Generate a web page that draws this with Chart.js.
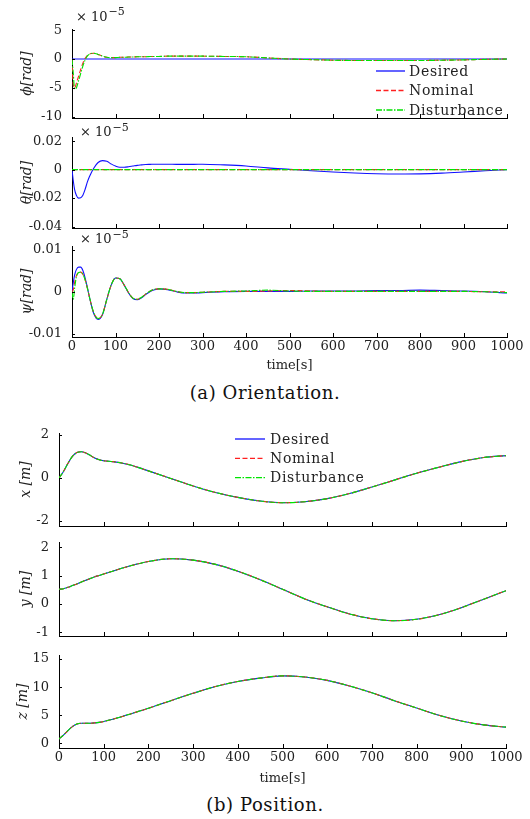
<!DOCTYPE html>
<html><head><meta charset="utf-8">
<script src="https://cdn.jsdelivr.net/npm/chart.js@4/dist/chart.umd.min.js"></script>
<style>
html,body{margin:0;padding:0;background:#fff;}
body{width:530px;height:819px;position:relative;overflow:hidden;font-family:"DejaVu Serif",serif;}
canvas{position:absolute;left:0;}
.cap{position:absolute;left:0;width:530px;text-align:center;font-size:18px;letter-spacing:0.6px;line-height:20px;color:#111;}
</style></head><body>
<div class="cap" style="top:383px">(a) Orientation.</div>
<div class="cap" style="top:795px">(b) Position.</div>
<script>
// ---------- data ----------
const timeTicks = [0,100,200,300,400,500,600,700,800,900,1000];
const timeLabels = ['0','100','200','300','400','500','600','700','800','900','1000'];

const tO = [0,3,6,10,15,20,25,30,35,40,50,60,70,80,90,100,110,120,130,140,150,160,170,180,190,200,220,240,260,280,300,350,400,450,500,550,600,650,700,750,800,850,900,950,1000];

const phiDesired = [0,0,0,0,0,0,0,0,0,0,0,0,0,0,0,0,0,0,0,0,0,0,0,0,0,0,0,0,0,0,0,0,0,0,0,0,0,0,0,0,0,0,0,0,0];
const phiNominal = [0,-4.5,-5.0,-4.2,-3.0,-1.8,-0.7,0.1,0.6,0.9,1.0,0.8,0.5,0.3,0.25,0.25,0.3,0.3,0.35,0.35,0.4,0.4,0.4,0.45,0.45,0.45,0.5,0.5,0.5,0.5,0.5,0.45,0.4,0.2,0.0,-0.1,-0.2,-0.25,-0.25,-0.25,-0.25,-0.2,-0.15,-0.05,0];
const phiDisturbance = [0,-2.5,-5.2,-5.0,-3.8,-2.5,-1.2,-0.2,0.5,0.85,1.0,0.8,0.5,0.3,0.25,0.25,0.3,0.3,0.35,0.35,0.4,0.4,0.4,0.45,0.45,0.45,0.5,0.5,0.5,0.5,0.5,0.45,0.4,0.2,0.0,-0.1,-0.2,-0.25,-0.25,-0.25,-0.25,-0.2,-0.15,-0.05,0];

const thetaDesired = [0,-0.008,-0.014,-0.018,-0.020,-0.0198,-0.018,-0.014,-0.009,-0.005,0.001,0.005,0.0063,0.0058,0.004,0.0025,0.0017,0.0017,0.002,0.0025,0.003,0.0033,0.0036,0.0037,0.0038,0.0038,0.0038,0.0037,0.0037,0.0037,0.0038,0.0033,0.0025,0.0012,0.0002,-0.0008,-0.0017,-0.0024,-0.0029,-0.0031,-0.0030,-0.0025,-0.0017,-0.0008,0];
const thetaNominal = [0,0,0,0,0,0,0,0,0,0,0,0,0,0,0,0,0,0,0,0,0,0,0,0,0,0,0,0,0,0,0,0,0,0,0,0,0,0,0,0,0,0,0,0,0];
const thetaDisturbance = [0,0,0,0,0,0,0,0,0,0,0,0,0,0,0,0,0,0,0,0,0,0,0,0,0,0,0,0,0,0,0,0,0,0,0,0,0,0,0,0,0,0,0,0,0];

const psiDesired = [0,0.0022,0.004,0.0053,0.0059,0.0059,0.0051,0.0034,0.0012,-0.0012,-0.0052,-0.0066,-0.0055,-0.0018,0.0016,0.0033,0.0031,0.0016,-0.0003,-0.0016,-0.0019,-0.0014,-0.0006,0.0001,0.0005,0.0007,0.0005,0.0,-0.0003,-0.0003,-0.0002,0.0,0.0001,0.0001,0.0001,0.0002,0.0002,0.0002,0.0003,0.0003,0.0004,0.0003,0.0002,0.0,-0.0003];
const psiNominal = [0,0.0005,0.0022,0.0038,0.0046,0.0047,0.0042,0.0029,0.001,-0.0012,-0.005,-0.0064,-0.0054,-0.0018,0.0016,0.0033,0.0031,0.0016,-0.0002,-0.0015,-0.0018,-0.0013,-0.0005,0.0002,0.0006,0.0007,0.0006,0.0001,-0.0002,-0.0002,-0.0001,0.0001,0.0001,0.0002,0.0003,0.0002,0.0001,0.0001,0.0001,0.0001,0.0001,0.0001,0.0001,0.0,0.0];
const psiDisturbance = [0,-0.0018,0.0008,0.0035,0.0046,0.0047,0.0042,0.0029,0.001,-0.0012,-0.005,-0.0064,-0.0054,-0.0018,0.0016,0.0033,0.0031,0.0016,-0.0002,-0.0015,-0.0018,-0.0013,-0.0005,0.0002,0.0006,0.0007,0.0006,0.0001,-0.0002,-0.0002,-0.0001,0.0001,0.0002,0.0004,0.0002,0.0001,0.0001,0.0001,0.0001,0.0001,0.0001,0.0001,0.0001,0.0,-0.0002];

const tP = [0,10,20,30,40,50,60,70,80,90,100,120,140,160,180,200,250,300,350,400,450,500,550,600,650,700,750,800,850,900,950,1000];
const xPos = [0,0.3,0.68,1.0,1.18,1.22,1.16,1.05,0.93,0.85,0.8,0.76,0.7,0.6,0.47,0.33,-0.02,-0.37,-0.67,-0.9,-1.07,-1.15,-1.1,-0.96,-0.72,-0.42,-0.1,0.22,0.5,0.76,0.95,1.04];
const yPos = [0.52,0.54,0.59,0.65,0.71,0.78,0.84,0.9,0.96,1.01,1.06,1.16,1.26,1.35,1.43,1.5,1.6,1.55,1.4,1.16,0.86,0.52,0.18,-0.1,-0.35,-0.52,-0.59,-0.54,-0.38,-0.13,0.17,0.47];
const zPos = [0.8,1.5,2.3,3.0,3.45,3.6,3.6,3.6,3.65,3.75,3.9,4.3,4.75,5.25,5.75,6.25,7.6,8.9,10.1,11.0,11.6,12.0,11.8,11.2,10.2,9.0,7.6,6.3,5.0,4.0,3.3,2.9];

const phiTicks = [-10,-5,0,5];        const phiLabels = ['-10','-5','0','5'];
const thetaTicks = [-0.04,-0.02,0,0.02]; const thetaLabels = ['-0.04','-0.02','0','0.02'];
const psiTicks = [-0.01,0,0.01];      const psiLabels = ['-0.01','0','0.01'];
const xTicks = [-2,0,2];              const xLabels = ['-2','0','2'];
const yTicks = [-1,0,1,2];            const yLabels = ['-1','0','1','2'];
const zTicks = [0,5,10,15];           const zLabels = ['0','5','10','15'];

const seriesNames = ['Desired','Nominal','Disturbance'];

// ---------- drawing ----------
const FONT = '"DejaVu Serif", serif';
const TXT = '#222';

function pts(t, v){ return t.map((x,i)=>({x:x, y:v[i]})); }
function datasets(t, d, n, s){
  return [
    {label:seriesNames[0], data:pts(t,d), borderColor:'#1010ff', borderWidth:1.1, order:3},
    {label:seriesNames[1], data:pts(t,n), borderColor:'#ff2020', borderWidth:1.1, borderDash:[5,2.5], order:2},
    {label:seriesNames[2], data:pts(t,s), borderColor:'#00e400', borderWidth:1.1, borderDash:[6,1.5,1.5,1.5], order:1}
  ];
}

const inwardTicks = {
  id:'inwardTicks',
  afterDraw(chart){
    const {ctx, chartArea:a, scales:{x, y}} = chart;
    ctx.save(); ctx.strokeStyle='#000'; ctx.lineWidth=1; ctx.setLineDash([]);
    ctx.beginPath();
    x.ticks.forEach((t,i)=>{ const px=Math.round(x.getPixelForTick(i))+0.5; ctx.moveTo(px,a.bottom); ctx.lineTo(px,a.bottom-4); });
    y.ticks.forEach((t,i)=>{ const py=Math.round(y.getPixelForTick(i))+0.5; ctx.moveTo(a.left,py); ctx.lineTo(a.left+3,py); });
    ctx.stroke(); ctx.restore();
  }
};
const sciPlugin = {
  id:'sci',
  afterDraw(chart, args, o){
    const ctx = chart.ctx; ctx.save();
    ctx.fillStyle=TXT; ctx.textBaseline='middle'; ctx.textAlign='left';
    ctx.font = '13px ' + FONT;
    ctx.fillText('× 10', o.x, o.y);
    const w = ctx.measureText('× 10').width;
    ctx.font = '11px ' + FONT;
    ctx.fillText('−5', o.x + w + 1, o.y - 5);
    ctx.restore();
  }
};
const legendPlugin = {
  id:'lg',
  afterDraw(chart, args, o){
    const ctx = chart.ctx; ctx.save();
    chart.data.datasets.forEach((ds,i)=>{
      const y = o.y + i*o.dy;
      ctx.strokeStyle = ds.borderColor; ctx.lineWidth = 1.3;
      ctx.setLineDash(ds.borderDash || []);
      ctx.beginPath(); ctx.moveTo(o.x0, y); ctx.lineTo(o.x1, y); ctx.stroke();
      ctx.setLineDash([]);
      ctx.fillStyle = TXT; ctx.font = '14px ' + FONT; ctx.textBaseline='middle'; ctx.textAlign='left';
      if ('letterSpacing' in ctx) ctx.letterSpacing = '0.7px';
      ctx.fillText(ds.label, o.tx, y + 1);
      if ('letterSpacing' in ctx) ctx.letterSpacing = '0px';
    });
    ctx.restore();
  }
};

function makePlot(s){
  const padTop = 25;
  const padBottom = s.showX ? 40 : 4;
  const CT = s.top - padTop, CB = s.bottom + padBottom;
  const cv = document.createElement('canvas');
  cv.width = 530; cv.height = CB - CT;
  cv.style.top = CT + 'px'; cv.style.width = '530px'; cv.style.height = (CB-CT)+'px';
  document.body.appendChild(cv);
  const plug = {legend:{display:false}, tooltip:{enabled:false}};
  plug.sci = s.sci ? {x:s.sci.x, y:s.sci.y - CT} : false;
  plug.lg = s.legend ? {x0:s.legend.x0, x1:s.legend.x1, tx:s.legend.tx, y:s.legend.y - CT, dy:s.legend.dy} : false;
  new Chart(cv, {
    type:'line',
    data:{datasets:s.datasets},
    options:{
      responsive:false, animation:false, devicePixelRatio:1,
      layout:{padding:{top:padTop, left:0, right:530 - s.right, bottom:0}},
      elements:{point:{radius:0}, line:{cubicInterpolationMode:'monotone', borderCapStyle:'butt'}},
      plugins:plug,
      scales:{
        x:{
          type:'linear', min:0, max:1000,
          grid:{display:false, drawTicks:false},
          border:{display:true, color:'#000', width:1},
          afterBuildTicks: sc => { sc.ticks = timeTicks.map(v=>({value:v})); },
          ticks:{display:!!s.showX, padding:2, autoSkip:false, maxRotation:0, font:{family:FONT, size:13}, color:TXT,
                 callback:(v,i)=>timeLabels[i]},
          title:{display:!!s.showX, text:'time[s]', font:{family:FONT, size:13}, color:TXT,
                 padding:{top:0, bottom: s.showX ? (CB - s.xTitleY - 7.8) : 0}},
          afterFit: sc => { sc.height = CB - s.bottom; sc.paddingLeft = 0; sc.paddingRight = 0; }
        },
        y:{
          type:'linear', min:s.ymin, max:s.ymax,
          grid:{display:false, drawTicks:false},
          border:{display:true, color:'#000', width:1},
          afterBuildTicks: sc => { sc.ticks = s.yTicks.map(v=>({value:v})); },
          ticks:{padding:10, autoSkip:false, font:{family:FONT, size:13}, color:TXT,
                 callback:(v,i)=>s.yLabels[i]},
          title:{display:true, text:s.ytitle, font:{family:FONT, size:14, style:'italic'}, color:TXT,
                 padding:{top:s.yTitleX - 8.4, bottom:0}},
          afterFit: sc => { sc.width = s.left; sc.paddingTop = 0; sc.paddingBottom = 0; }
        }
      }
    },
    plugins:[inwardTicks, sciPlugin, legendPlugin]
  });
}

makePlot({left:72, right:507, top:29, bottom:118, ymin:-10.2, ymax:5.2, yTicks:phiTicks, yLabels:phiLabels,
  ytitle:'ϕ[rad]', yTitleX:27, sci:{x:76, y:17.5}, legend:{x0:376, x1:405, tx:409, y:71, dy:19.5},
  datasets:datasets(tO, phiDesired, phiNominal, phiDisturbance)});
makePlot({left:72, right:507, top:137, bottom:228, ymin:-0.041, ymax:0.0229, yTicks:thetaTicks, yLabels:thetaLabels,
  ytitle:'θ[rad]', yTitleX:27, sci:{x:80, y:133},
  datasets:datasets(tO, thetaDesired, thetaNominal, thetaDisturbance)});
makePlot({left:72, right:507, top:246, bottom:337, ymin:-0.0108, ymax:0.01095, yTicks:psiTicks, yLabels:psiLabels,
  ytitle:'ψ[rad]', yTitleX:27, sci:{x:80, y:240}, showX:true, xTitleY:366,
  datasets:datasets(tO, psiDesired, psiNominal, psiDisturbance)});

makePlot({left:59, right:506, top:433, bottom:526, ymin:-2.23, ymax:2.09, yTicks:xTicks, yLabels:xLabels,
  ytitle:'x [m]', yTitleX:26, legend:{x0:235, x1:265, tx:270, y:439, dy:19.3},
  datasets:datasets(tP, xPos, xPos, xPos)});
makePlot({left:59, right:506, top:542, bottom:636, ymin:-1.13, ymax:2.19, yTicks:yTicks, yLabels:yLabels,
  ytitle:'y [m]', yTitleX:26,
  datasets:datasets(tP, yPos, yPos, yPos)});
makePlot({left:59, right:506, top:655, bottom:748, ymin:-0.8, ymax:15.7, yTicks:zTicks, yLabels:zLabels,
  ytitle:'z [m]', yTitleX:23, showX:true, xTitleY:779,
  datasets:datasets(tP, zPos, zPos, zPos)});
</script>
</body></html>
